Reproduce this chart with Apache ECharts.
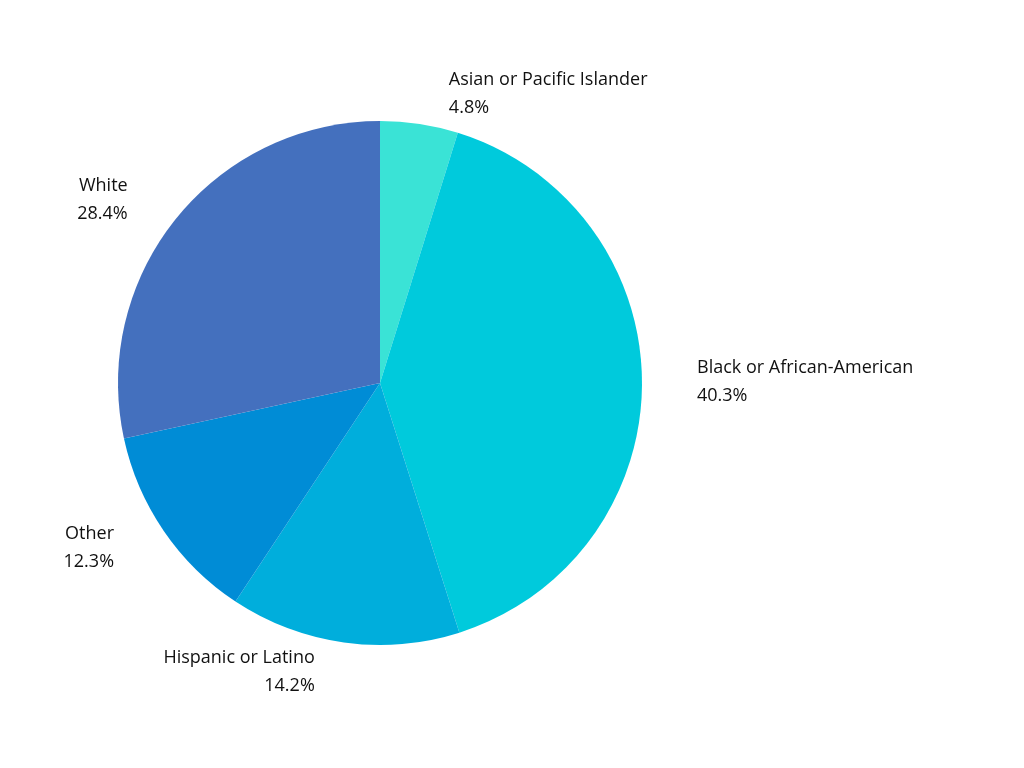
<!DOCTYPE html>
<html>
<head>
<meta charset="utf-8">
<script src="https://cdn.jsdelivr.net/npm/echarts@6/dist/echarts.min.js"></script>
<style>html,body{margin:0;padding:0;background:#fff}#main{width:1024px;height:768px}</style>
</head>
<body>
<div id="main"></div>
<script>
var categories = ['Asian or Pacific Islander', 'Black or African-American', 'Hispanic or Latino', 'Other', 'White'];
var shares = [4.8, 40.3, 14.2, 12.3, 28.4];
var colors = ['#3ae3d6', '#00cadc', '#00aedc', '#008cd6', '#4470be'];

var chart = echarts.init(document.getElementById('main'));
chart.setOption({
  animation: false,
  color: colors,
  series: [{
    type: 'pie',
    center: [380, 383],
    radius: 262,
    startAngle: 90,
    clockwise: true,
    data: categories.map(function (c, i) { return { name: c, value: shares[i] }; }),
    label: {
      show: true,
      position: 'outside',
      formatter: function (p) { return p.name + '\n' + p.value.toFixed(1) + '%'; },
      fontFamily: 'Open Sans',
      fontSize: 18,
      lineHeight: 28,
      color: '#111',
      align: 'center'
    },
    labelLine: { show: false, length: 30, length2: 20 },
    itemStyle: { borderWidth: 0 },
    emphasis: { disabled: true }
  }]
});
</script>
</body>
</html>
